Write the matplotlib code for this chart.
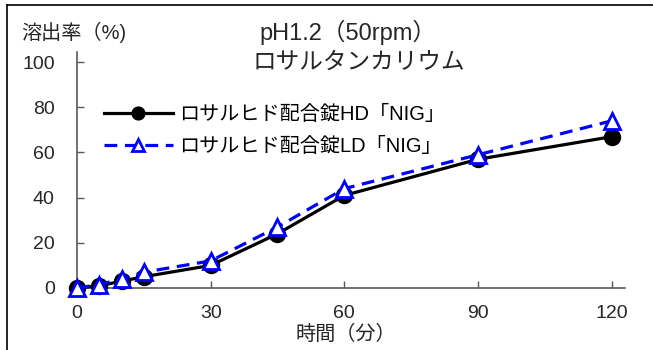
import matplotlib.pyplot as plt
from matplotlib.lines import Line2D

# data
times = [0, 5, 10, 15, 30, 45, 60, 90, 120]
hd_values = [0, 1, 3, 5, 10, 24, 41, 57, 67]
ld_values = [0, 1.5, 4, 7, 12, 27, 44, 59, 74]
x_ticks = [0, 30, 60, 90, 120]
y_ticks = [0, 20, 40, 60, 80, 100]
label_hd = 'ロサルヒド配合錠HD「NIG」'
label_ld = 'ロサルヒド配合錠LD「NIG」'

plt.rcParams['font.family'] = ['Liberation Sans', 'Noto Sans CJK JP', 'DejaVu Sans']

W, H = 653, 350
fig = plt.figure(figsize=(W / 100, H / 100), dpi=100)
ax = fig.add_axes([77 / W, 1 - 288 / H, (625 - 77) / W, (288 - 52) / H])

ax.plot(times, hd_values, color='black', lw=2.3, marker='o', ms=11.5,
        mfc='black', mec='black', label=label_hd, zorder=3, clip_on=False)
ax.plot(times, ld_values, color='#0000FF', lw=2.3, dashes=(4, 2.4), marker='^',
        ms=11, mfc='white', mec='#0000FF', mew=2, label=label_ld, zorder=4,
        clip_on=False)

ax.set_xlim(0, 123)
ax.set_ylim(0, 104.5)
ax.set_xticks(x_ticks)
ax.set_yticks(y_ticks)
for s in ['top', 'right']:
    ax.spines[s].set_visible(False)
for s in ['left', 'bottom']:
    ax.spines[s].set_color('#595959')
    ax.spines[s].set_linewidth(1.2)
ax.tick_params(direction='in', length=5, width=1, color='#595959',
               labelsize=14, labelcolor='#262626')
ax.tick_params(axis='y', pad=16)
ax.tick_params(axis='x', pad=12)

leg = ax.legend(loc='upper left', bbox_to_anchor=(0.035, 0.81), frameon=False,
                fontsize=14.5, handlelength=3.4, handletextpad=0.3,
                labelspacing=0.65, borderaxespad=0, markerscale=0.8)

fig.text(21 / W, 1 - 32 / H, '溶出率（%)', fontsize=14.5, va='center', ha='left',
         color='#262626')
fig.text(348 / W, 1 - 32 / H, 'pH1.2（50rpm）', fontsize=17, va='center',
         ha='center', color='#262626')
fig.text(359 / W, 1 - 63 / H, 'ロサルタンカリウム', fontsize=17, va='center',
         ha='center', color='#262626')
fig.text(346 / W, 1 - 334 / H, '時間（分）', fontsize=14.5, va='center',
         ha='center', color='#262626')

# outer border (left and top only)
fig.add_artist(Line2D([7 / W, 7 / W], [0, 1 - 5 / H], color='black', lw=1.2,
                      transform=fig.transFigure))
fig.add_artist(Line2D([7 / W, 1], [1 - 5 / H, 1 - 5 / H], color='black', lw=1.2,
                      transform=fig.transFigure))

fig.savefig('out.png', dpi=100, facecolor='white')
